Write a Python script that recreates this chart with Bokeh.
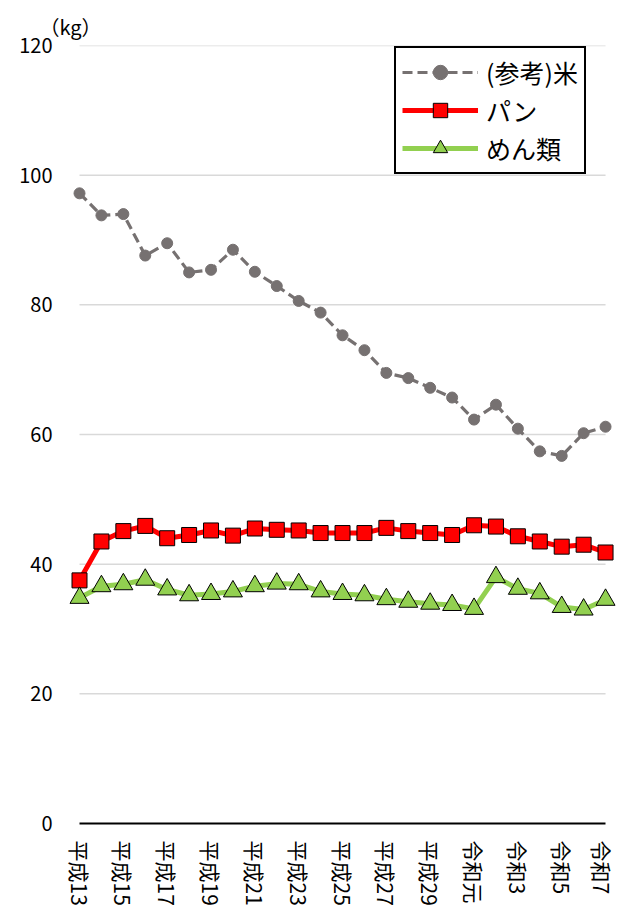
from bokeh.plotting import figure
from bokeh.models import FixedTicker, Legend, LegendItem, Title
from bokeh.embed import file_html
from bokeh.resources import INLINE

years = ["平成13", "平成14", "平成15", "平成16", "平成17", "平成18", "平成19",
         "平成20", "平成21", "平成22", "平成23", "平成24", "平成25", "平成26",
         "平成27", "平成28", "平成29", "平成30", "令和元", "令和2", "令和3",
         "令和4", "令和5", "令和6", "令和7"]
rice = [97.2, 93.8, 94.0, 87.6, 89.5, 85.0, 85.4, 88.5, 85.1, 82.9, 80.6, 78.8,
        75.3, 73.0, 69.5, 68.7, 67.2, 65.7, 62.3, 64.6, 60.9, 57.4, 56.7, 60.2, 61.2]
bread = [37.5, 43.5, 45.1, 45.9, 44.0, 44.5, 45.2, 44.4, 45.5, 45.3, 45.2, 44.8,
         44.8, 44.8, 45.6, 45.1, 44.8, 44.5, 46.0, 45.8, 44.3, 43.5, 42.7, 43.0, 41.8]
noodles = [34.8, 36.6, 36.9, 37.6, 36.1, 35.2, 35.4, 35.8, 36.6, 37.0, 36.9, 35.8,
           35.4, 35.2, 34.6, 34.2, 33.9, 33.7, 33.1, 38.0, 36.2, 35.5, 33.4, 33.0, 34.5]
y_ticks = [0, 20, 40, 60, 80, 100, 120]
series_names = ["(参考)米", "パン", "めん類"]
unit_text = "（kg）"

x = list(range(len(years)))
FONT = "Noto Sans CJK JP"

p = figure(width=616, height=918, x_range=(-0.776, 24.50), y_range=(0, 120),
           output_backend="svg", toolbar_location=None,
           min_border_left=62, min_border_right=0, min_border_top=45, min_border_bottom=95)
p.outline_line_color = None
p.xgrid.visible = False
p.ygrid.visible = False
p.background_fill_color = "white"

# gridlines spanning the data extent
gy = y_ticks[1:]
p.segment(x0=[x[0]] * len(gy), y0=gy, x1=[x[-1]] * len(gy), y1=gy,
          line_color="#D9D9D9", line_width=1.5)

r_rice_l = p.line(x, rice, line_color="#767171", line_width=3.2, line_dash="10 5")
r_rice_m = p.scatter(x, rice, marker="circle", size=11, fill_color="#767171",
                     line_color="#767171", level="overlay")
r_bread_l = p.line(x, bread, line_color="#FF0000", line_width=5)
r_bread_m = p.scatter(x, bread, marker="square", size=15, fill_color="#FF0000",
                      line_color="black", line_width=1, level="overlay")
r_nood_l = p.line(x, noodles, line_color="#92D050", line_width=5)
r_nood_m = p.scatter(x, noodles, marker="triangle", size=19, fill_color="#92D050",
                     line_color="black", line_width=1, level="overlay")

xa = p.xaxis[0]
xa.ticker = FixedTicker(ticks=x[::2])
xa.major_label_overrides = {i: years[i] for i in x[::2]}
xa.major_label_orientation = "vertical"
xa.bounds = (x[0], x[-1])
xa.axis_line_color = "black"
xa.axis_line_width = 2
xa.major_tick_line_color = None
xa.minor_tick_line_color = None
xa.major_tick_out = 0
xa.minor_tick_out = 0
xa.major_label_standoff = 17
xa.major_label_text_font_size = "21px"
xa.major_label_text_font = FONT
xa.major_label_text_color = "black"

ya = p.yaxis[0]
ya.ticker = FixedTicker(ticks=y_ticks)
ya.axis_line_color = None
ya.major_tick_line_color = None
ya.minor_tick_line_color = None
ya.major_tick_out = 0
ya.minor_tick_out = 0
ya.major_label_standoff = 10
ya.major_label_text_font_size = "20px"
ya.major_label_text_font = FONT
ya.major_label_text_color = "black"

p.add_layout(Title(text=unit_text, align="left", offset=-23, text_font_size="20px",
                   text_font=FONT, text_font_style="normal", text_color="black",
                   standoff=9), "above")

legend = Legend(items=[
    LegendItem(label=series_names[0], renderers=[r_rice_l, r_rice_m]),
    LegendItem(label=series_names[1], renderers=[r_bread_l, r_bread_m]),
    LegendItem(label=series_names[2], renderers=[r_nood_l, r_nood_m]),
], location=(332, 649))
legend.glyph_width = 76
legend.glyph_height = 36
legend.label_height = 36
legend.label_standoff = 8
legend.spacing = 2
legend.padding = 6
legend.margin = 0
legend.label_text_font_size = "25px"
legend.label_text_font = FONT
legend.label_text_color = "black"
legend.border_line_color = "black"
legend.border_line_width = 2
legend.border_line_alpha = 1
legend.background_fill_alpha = 1
p.add_layout(legend, "center")

open("out.html", "w").write(file_html(p, INLINE))
